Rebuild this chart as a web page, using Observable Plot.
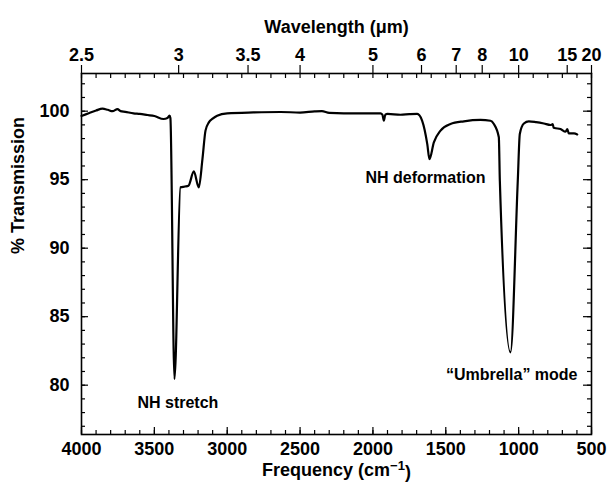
<!DOCTYPE html>
<html>
<head>
<meta charset="utf-8">
<script src="https://cdn.jsdelivr.net/npm/d3@7"></script>
<script src="https://cdn.jsdelivr.net/npm/@observablehq/plot@0.6"></script>
<style>
  html, body { margin: 0; padding: 0; background: #fff; }
  svg text { font-weight: bold; }
</style>
</head>
<body>
<div id="chart"></div>
<script>
// Spectrum: frequency (cm^-1) and % transmission
const frequency = [4000, 3950, 3900, 3856, 3820, 3787, 3753, 3732, 3700, 3643, 3600, 3547, 3500, 3437, 3410, 3396, 3390,
  3362, 3321, 3290, 3266, 3229, 3195, 3170, 3149, 3126, 3100, 3069, 3000, 2820, 2634, 2500, 2400, 2350, 2300, 2100,
  1948, 1935, 1925, 1915, 1900, 1811, 1750, 1696, 1662, 1627, 1612, 1582, 1536, 1468, 1376, 1262, 1193, 1170, 1136,
  1129, 1056, 1006, 992, 964, 930, 880, 827, 781, 766, 760, 754, 713, 678, 666, 656, 620, 598];
const transmission = [99.65, 99.85, 100.05, 100.18, 100.1, 100.0, 100.15, 100.0, 99.95, 99.84, 99.8, 99.72, 99.65, 99.43, 99.5, 99.67, 99.5,
  80.45, 94.44, 94.5, 94.56, 95.6, 94.44, 96.5, 98.58, 99.18, 99.45, 99.67, 99.84, 99.91, 99.94, 99.9, 99.98, 100.0, 99.88, 99.84,
  99.84, 99.75, 99.3, 99.75, 99.8, 99.74, 99.78, 99.8, 99.3, 97.6, 96.5, 97.72, 98.58, 99.06, 99.26, 99.36, 99.3, 99.06, 98.1,
  94.9, 82.4, 94.9, 98.34, 99.1, 99.26, 99.2, 99.1, 98.99, 99.05, 98.8, 98.77, 98.7, 98.5, 98.7, 98.38, 98.38, 98.3];

// Axis ticks
const freqMajor = [4000, 3500, 3000, 2500, 2000, 1500, 1000, 500];
const freqMinor = d3.range(500, 4001, 100);
const wavelengthTicks = [2.5, 3, 3.5, 4, 5, 6, 7, 8, 10, 15, 20];
const transMajor = [80, 85, 90, 95, 100];
const transMinor = d3.range(77, 103, 1);

// Annotations (label, frequency, transmission, anchor)
const annLabels = ["NH stretch", "NH deformation", "\u201CUmbrella\u201D mode"];
const annFreq = [3616, 2051, 596];
const annTrans = [78.7, 95.15, 80.77];
const annAnchor = ["start", "start", "end"];

const spectrum = frequency.map((f, i) => ({f, t: transmission[i]}));
const annotations = annLabels.map((label, i) => ({label, f: annFreq[i], t: annTrans[i], anchor: annAnchor[i]}));

const width = 609, height = 485;
const mL = 81, mR = 18, mT = 73, mB = 51;
const plotW = width - mL - mR, plotH = height - mT - mB;

const chart = Plot.plot({
  width, height,
  marginLeft: mL, marginRight: mR, marginTop: mT, marginBottom: mB,
  style: {fontFamily: "'Liberation Sans', Arial, Helvetica, sans-serif", fontSize: "18px", background: "#fff", color: "#000"},
  x: {type: "linear", domain: [4000, 500]},
  y: {type: "linear", domain: [76.4, 102.75]},
  marks: [
    // inward ticks, bottom
    Plot.ruleX(freqMinor, {x: d => d, insetTop: plotH - 4, stroke: "#000", strokeWidth: 1.2}),
    Plot.ruleX(freqMajor, {x: d => d, insetTop: plotH - 7, stroke: "#000", strokeWidth: 1.2}),
    // inward ticks, top
    Plot.ruleX(freqMinor, {x: d => d, insetBottom: plotH - 5, stroke: "#000", strokeWidth: 1.2}),
    // inward ticks, left and right
    Plot.ruleY(transMinor, {y: d => d, insetRight: plotW - 4, stroke: "#000", strokeWidth: 1.2}),
    Plot.ruleY(transMajor, {y: d => d, insetRight: plotW - 7, stroke: "#000", strokeWidth: 1.2}),
    Plot.ruleY(transMinor, {y: d => d, insetLeft: plotW - 4, stroke: "#000", strokeWidth: 1.2}),
    Plot.ruleY(transMajor, {y: d => d, insetLeft: plotW - 8, stroke: "#000", strokeWidth: 1.2}),
    Plot.frame({stroke: "#000", strokeWidth: 1.6}),
    // axes labels
    Plot.axisX(freqMajor, {anchor: "bottom", tickSize: 0, tickPadding: 8, tickFormat: d => String(d), label: null}),
    Plot.axisX(wavelengthTicks.map(l => 10000 / l), {anchor: "top", tickSize: 9, tickPadding: 4, strokeWidth: 1.2,
      tickFormat: d => d3.format("~g")(Math.round(10000 / d * 100) / 100), label: null}),
    Plot.axisY(transMajor, {anchor: "left", tickSize: 0, tickPadding: 12, label: null}),
    // titles
    Plot.text(["Wavelength (\u03BCm)"], {frameAnchor: "top", dy: -53, fontSize: 18}),
    Plot.text(["Frequency (cm\u22121)"], {frameAnchor: "bottom", dy: 41, fontSize: 18}),
    Plot.text(["% Transmission"], {frameAnchor: "left", dx: -63, rotate: -90, fontSize: 18}),
    // spectrum
    Plot.line(spectrum, {x: "f", y: "t", stroke: "#000", strokeWidth: 2.2, curve: "monotone-x"}),
    // annotations
    Plot.text(annotations.filter(d => d.anchor === "start"), {x: "f", y: "t", text: "label", textAnchor: "start", fontSize: 16}),
    Plot.text(annotations.filter(d => d.anchor === "end"), {x: "f", y: "t", text: "label", textAnchor: "end", fontSize: 16})
  ]
});
document.getElementById("chart").appendChild(chart);

// superscript for cm^-1
d3.select(chart).selectAll("text").filter(function() { return this.textContent === "Frequency (cm\u22121)"; })
  .each(function() {
    const t = d3.select(this);
    t.text(null);
    t.append("tspan").text("Frequency (cm");
    t.append("tspan").attr("dy", "-0.4em").attr("font-size", "13px").text("\u22121");
    t.append("tspan").attr("dy", "0.4em").text(")");
  });
</script>
</body>
</html>
